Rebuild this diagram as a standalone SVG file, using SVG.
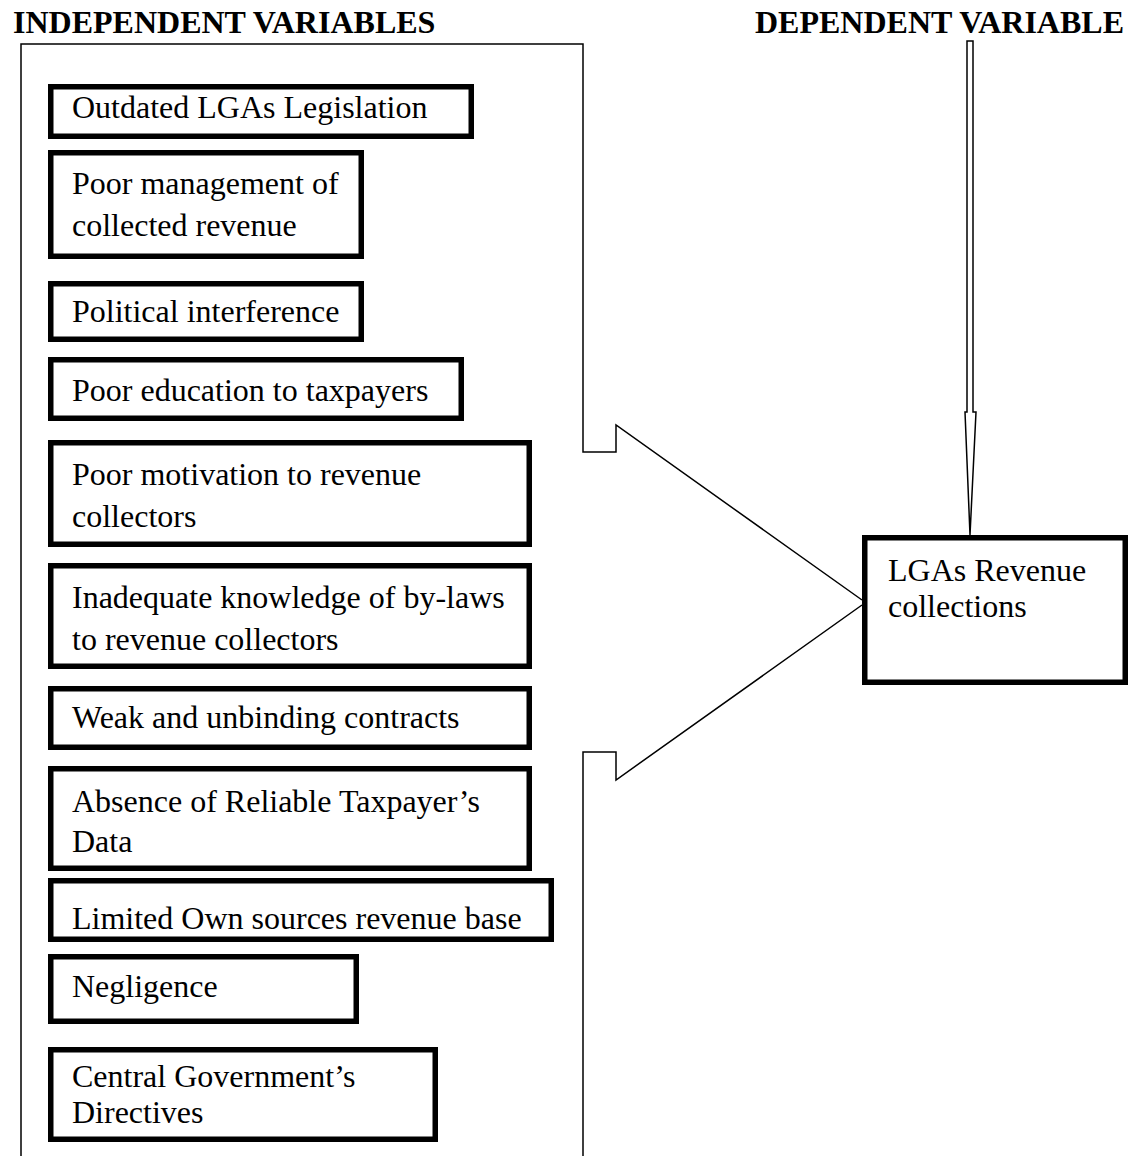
<svg xmlns="http://www.w3.org/2000/svg" width="1136" height="1156" viewBox="0 0 1136 1156">
<style>
.hdr{font-family:"Liberation Serif","Times New Roman",serif;font-weight:bold;font-size:32px;fill:#000}
.t{font-family:"Liberation Serif","Times New Roman",serif;font-size:32px;fill:#000}
.box{fill:#fff;stroke:#000;stroke-width:5.5}
.ln{fill:none;stroke:#000;stroke-width:1.5}
</style>
<rect width="1136" height="1156" fill="#fff"/>
<text class="hdr" x="13" y="33">INDEPENDENT VARIABLES</text>
<text class="hdr" x="755" y="33">DEPENDENT VARIABLE</text>
<g id="connectors">
<path class="ln" d="M21,1156 V44 H583 V452 H616 V425 L862,600"/>
<path class="ln" d="M862,605 L616,780 V752 H583 V1156"/>
<path d="M967,41 H973 V412 H976 L970,535 L965,412 H967 Z" fill="#fff" stroke="#000" stroke-width="1.5"/>
</g>
<g id="n1"><rect class="box" x="50.75" y="86.75" width="420.5" height="49.5"/><text class="t" x="72" y="118">Outdated LGAs Legislation</text></g>
<g id="n2"><rect class="box" x="50.75" y="152.75" width="310.5" height="103.5"/><text class="t" x="72" y="194">Poor management of</text><text class="t" x="72" y="236">collected revenue</text></g>
<g id="n3"><rect class="box" x="50.75" y="283.75" width="310.5" height="55.5"/><text class="t" x="72" y="322">Political interference</text></g>
<g id="n4"><rect class="box" x="50.75" y="359.75" width="410.5" height="58.5"/><text class="t" x="72" y="401">Poor education to taxpayers</text></g>
<g id="n5"><rect class="box" x="50.75" y="442.75" width="478.5" height="101.5"/><text class="t" x="72" y="485">Poor motivation to revenue</text><text class="t" x="72" y="527">collectors</text></g>
<g id="n6"><rect class="box" x="50.75" y="565.75" width="478.5" height="100.5"/><text class="t" x="72" y="608">Inadequate knowledge of by-laws</text><text class="t" x="72" y="650">to revenue collectors</text></g>
<g id="n7"><rect class="box" x="50.75" y="688.75" width="478.5" height="58.5"/><text class="t" x="72" y="728">Weak and unbinding contracts</text></g>
<g id="n8"><rect class="box" x="50.75" y="768.75" width="478.5" height="99.5"/><text class="t" x="72" y="812">Absence of Reliable Taxpayer’s</text><text class="t" x="72" y="852">Data</text></g>
<g id="n9"><rect class="box" x="50.75" y="880.75" width="500.5" height="58.5"/><text class="t" x="72" y="929">Limited Own sources revenue base</text></g>
<g id="n10"><rect class="box" x="50.75" y="956.75" width="305.5" height="64.5"/><text class="t" x="72" y="997">Negligence</text></g>
<g id="n11"><rect class="box" x="50.75" y="1049.75" width="384.5" height="89.5"/><text class="t" x="72" y="1087">Central Government’s</text><text class="t" x="72" y="1123">Directives</text></g>
<g id="lga"><rect class="box" x="864.75" y="537.75" width="260.5" height="144.5"/><text class="t" x="888" y="581">LGAs Revenue</text><text class="t" x="888" y="617">collections</text></g>
</svg>
